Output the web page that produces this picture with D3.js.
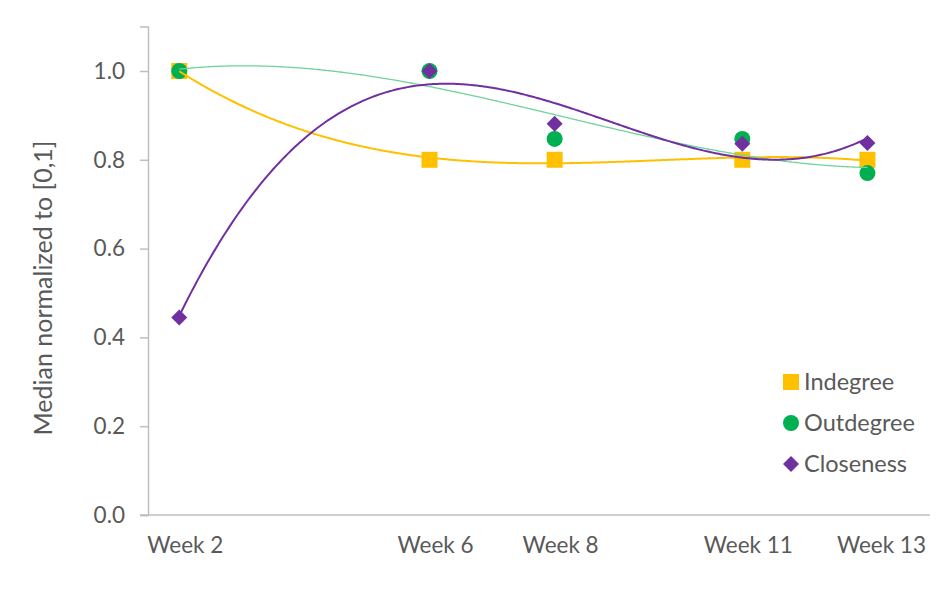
<!DOCTYPE html>
<html><head><meta charset="utf-8">
<script src="https://cdn.jsdelivr.net/npm/d3@7"></script>
<style>
html,body{margin:0;padding:0;background:#fff;}
svg{display:block;font-family:Lato, "Open Sans", sans-serif;}
</style></head>
<body><svg id="chart" width="952" height="600"></svg>
<script>
const weeks = [2, 6, 8, 11, 13];
const weekLabels = ["Week 2", "Week 6", "Week 8", "Week 11", "Week 13"];
const indegree  = [1.0, 0.80, 0.80, 0.80, 0.80];
const outdegree = [1.0, 1.0, 0.847, 0.847, 0.770];
const closeness = [0.445, 1.0, 0.881, 0.836, 0.838];
const yTicks = [0, 0.2, 0.4, 0.6, 0.8, 1.0];
const seriesNames = ["Indegree", "Outdegree", "Closeness"];

const series = [
  {name: seriesNames[0], values: indegree, color: "#FFC000", trend: "#FFC000", tw: 2, shape: "square"},
  {name: seriesNames[1], values: outdegree, color: "#00B050", trend: "#70D39B", tw: 1.3, shape: "circle"},
  {name: seriesNames[2], values: closeness, color: "#7030A0", trend: "#7030A0", tw: 2, shape: "diamond"}
];

// cubic least-squares trendline (Excel polynomial order 3)
function polyFit(xs, ys, order) {
  const n = order + 1;
  const xm = d3.mean(xs);
  const A = Array.from({length: n}, () => new Array(n + 1).fill(0));
  xs.forEach((x0, k) => {
    const x = x0 - xm;
    for (let i = 0; i < n; i++) {
      for (let j = 0; j < n; j++) A[i][j] += Math.pow(x, i + j);
      A[i][n] += ys[k] * Math.pow(x, i);
    }
  });
  for (let c = 0; c < n; c++) {
    let p = c;
    for (let r = c + 1; r < n; r++) if (Math.abs(A[r][c]) > Math.abs(A[p][c])) p = r;
    [A[c], A[p]] = [A[p], A[c]];
    for (let r = 0; r < n; r++) {
      if (r === c) continue;
      const f = A[r][c] / A[c][c];
      for (let k = c; k <= n; k++) A[r][k] -= f * A[c][k];
    }
  }
  const coef = A.map((row, i) => row[n] / row[i]);
  return x => coef.reduce((s, a, i) => s + a * Math.pow(x - xm, i), 0);
}

const svg = d3.select("#chart");
const x = d3.scaleLinear().domain([1.5, 14]).range([148, 930]);
const y = d3.scaleLinear().domain([0, 1.1]).range([515, 26.6]);
const textColor = "#595959";
const axisColor = "#BFBFBF";

// y axis
const yAxis = svg.append("g").attr("transform", "translate(148,0)")
  .call(d3.axisLeft(y).tickValues(yTicks).tickFormat(d3.format(".1f")).tickSize(8).tickPadding(15));
yAxis.select(".domain").attr("stroke", axisColor).attr("stroke-width", 1.5);
yAxis.selectAll(".tick line").attr("stroke", axisColor).attr("stroke-width", 1.5);
yAxis.selectAll(".tick text").attr("fill", textColor).style("font-size", "22.5px").style("font-family", "Lato, sans-serif");

// x axis line
svg.append("line").attr("x1", 140).attr("x2", 930).attr("y1", y(0)).attr("y2", y(0))
  .attr("stroke", axisColor).attr("stroke-width", 1.5);

// x labels
svg.append("g").selectAll("text").data(weeks).join("text")
  .attr("x", (d, i) => x(d) + (i === weeks.length - 1 ? 14 : 6))
  .attr("y", 553)
  .attr("text-anchor", "middle")
  .attr("fill", textColor).style("font-size", "22.5px")
  .text((d, i) => weekLabels[i]);

// y title
svg.append("text").attr("transform", "translate(52,288) rotate(-90)")
  .attr("text-anchor", "middle").attr("fill", textColor).style("font-size", "25px")
  .text("Median normalized to [0,1]");

const sym = {
  square: d3.symbol().type(d3.symbolSquare).size(256),
  circle: d3.symbol().type(d3.symbolCircle).size(201),
  diamond: d3.symbol().type(d3.symbolSquare).size(128)
};
function drawSymbol(g, shape, color, tx, ty) {
  g.append("path").attr("d", sym[shape]())
    .attr("transform", `translate(${tx},${ty})` + (shape === "diamond" ? " rotate(45)" : ""))
    .attr("fill", color);
}

// markers
series.forEach(s => {
  const g = svg.append("g");
  s.values.forEach((v, i) => drawSymbol(g, s.shape, s.color, x(weeks[i]), y(v)));
});

// trendlines
const samples = d3.range(0, 221).map(i => 2 + i * 11 / 220);
series.forEach(s => {
  const f = polyFit(weeks, s.values, 3);
  svg.append("path").datum(samples)
    .attr("fill", "none").attr("stroke", s.trend).attr("stroke-width", s.tw)
    .attr("d", d3.line().x(d => x(d)).y(d => y(f(d))).curve(d3.curveMonotoneX));
});

// legend
const lg = svg.append("g");
series.forEach((s, i) => {
  const cy = 382 + i * 41;
  drawSymbol(lg, s.shape, s.color, 791, cy);
  lg.append("text").attr("x", 804).attr("y", cy).attr("dy", "0.35em")
    .attr("fill", textColor).style("font-size", "23.5px").text(s.name);
});
</script></body></html>
